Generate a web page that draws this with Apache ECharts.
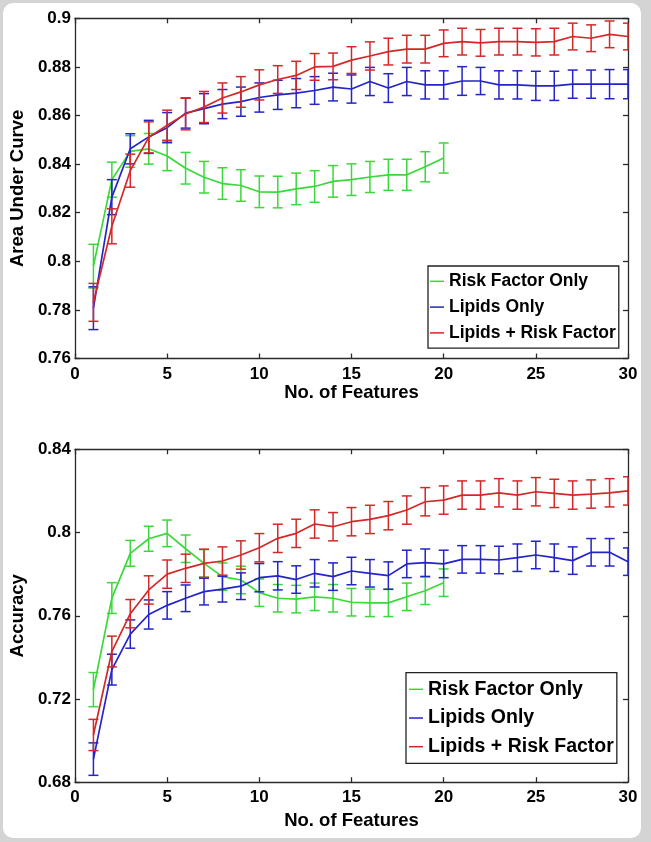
<!DOCTYPE html>
<html>
<head>
<meta charset="utf-8">
<script src="https://cdn.jsdelivr.net/npm/echarts@6/dist/echarts.min.js"></script>
<style>
html,body{margin:0;padding:0;width:651px;height:842px;background:#d4d4d4;overflow:hidden;}
#frame{position:absolute;left:3px;top:3px;width:638px;height:835px;background:#fff;border-radius:10px;}
#chart{position:absolute;left:0;top:0;width:651px;height:842px;}
</style>
</head>
<body>
<div id="frame"></div>
<div id="chart"></div>
<script>
// ---------- data ----------
const seriesNames = ['Risk Factor Only', 'Lipids Only', 'Lipids + Risk Factor'];
const xTickLabels = [0, 5, 10, 15, 20, 25, 30];

// Top panel: Area Under Curve
const aucRisk = [0.798, 0.8336, 0.8452, 0.8463, 0.8433, 0.8383, 0.8346, 0.8320, 0.8312, 0.8286,
                 0.8285, 0.8298, 0.8308, 0.8329, 0.8336, 0.8347, 0.8356, 0.8356, 0.8389, 0.8425];
const aucRiskErr = [0.009, 0.0072, 0.0065, 0.0063, 0.006, 0.0065, 0.0065, 0.0065, 0.0065, 0.0065,
                    0.0065, 0.0065, 0.0065, 0.0065, 0.0065, 0.0064, 0.0064, 0.0064, 0.0062, 0.0062];
const aucLipids = [0.7807, 0.8264, 0.8463, 0.8512, 0.8550, 0.8610, 0.8628, 0.8647, 0.8657, 0.8674,
                   0.8685, 0.8692, 0.8703, 0.8717, 0.8709, 0.8740, 0.8713, 0.8740, 0.8726, 0.8726,
                   0.8742, 0.8742, 0.8726, 0.8726, 0.8722, 0.8722, 0.8729, 0.8729, 0.8729, 0.8729];
const aucLipidsErr = [0.0088, 0.0072, 0.0062, 0.0068, 0.0062, 0.0062, 0.0062, 0.006, 0.006, 0.006,
                      0.006, 0.006, 0.0057, 0.0057, 0.0058, 0.0058, 0.0059, 0.0058, 0.0058, 0.0058,
                      0.0059, 0.0056, 0.0058, 0.0058, 0.006, 0.006, 0.0058, 0.0058, 0.006, 0.006];
const aucBoth = [0.7831, 0.8144, 0.8373, 0.8510, 0.8560, 0.8606, 0.8635, 0.8672, 0.8697, 0.8726,
                 0.8748, 0.8765, 0.8800, 0.8802, 0.8828, 0.8845, 0.8863, 0.8873, 0.8873, 0.8897,
                 0.8904, 0.8899, 0.8904, 0.8904, 0.8901, 0.8904, 0.8925, 0.8918, 0.8934, 0.8925];
const aucBothErr = [0.0078, 0.0072, 0.0068, 0.0064, 0.0062, 0.0065, 0.0064, 0.0062, 0.0063, 0.0062,
                    0.0057, 0.0058, 0.0055, 0.0055, 0.0055, 0.0058, 0.0055, 0.0057, 0.0057, 0.0055,
                    0.0055, 0.0055, 0.0055, 0.0055, 0.0056, 0.0055, 0.0055, 0.0055, 0.0055, 0.0055];

// Bottom panel: Accuracy
const accRisk = [0.7245, 0.7685, 0.7900, 0.7970, 0.7996, 0.7922, 0.7852, 0.7788, 0.7772, 0.7711,
                 0.7684, 0.7680, 0.7691, 0.7684, 0.7665, 0.7662, 0.7662, 0.7691, 0.7720, 0.7759];
const accRiskErr = [0.0082, 0.0074, 0.0062, 0.006, 0.0064, 0.0066, 0.0066, 0.0066, 0.0066, 0.0066,
                    0.0066, 0.0066, 0.0066, 0.0066, 0.0066, 0.0066, 0.0066, 0.0066, 0.0066, 0.0066];
const accLipids = [0.6911, 0.7341, 0.7512, 0.7606, 0.7650, 0.7684, 0.7716, 0.7728, 0.7742, 0.7783,
                   0.7792, 0.7774, 0.7804, 0.7788, 0.7815, 0.7804, 0.7793, 0.7849, 0.7855, 0.7849,
                   0.7871, 0.7871, 0.7868, 0.7879, 0.7892, 0.7879, 0.7865, 0.7905, 0.7905, 0.7860];
const accLipidsErr = [0.0078, 0.0074, 0.0068, 0.007, 0.0066, 0.0064, 0.0064, 0.0062, 0.0064, 0.0068,
                      0.0068, 0.0066, 0.0066, 0.0066, 0.0066, 0.0066, 0.0066, 0.0066, 0.0066, 0.0066,
                      0.0066, 0.0066, 0.0066, 0.0066, 0.0066, 0.0066, 0.0066, 0.0066, 0.0066, 0.0066];
const accBoth = [0.7027, 0.7428, 0.7610, 0.7724, 0.7800, 0.7828, 0.7852, 0.7863, 0.7892, 0.7927,
                 0.7972, 0.7996, 0.8041, 0.8028, 0.8052, 0.8063, 0.8081, 0.8108, 0.8148, 0.8156,
                 0.8180, 0.8180, 0.8191, 0.8180, 0.8196, 0.8188, 0.8180, 0.8185, 0.8191, 0.8200];
const accBothErr = [0.0075, 0.0074, 0.0068, 0.0068, 0.0068, 0.0068, 0.0068, 0.0068, 0.0068, 0.0068,
                    0.0068, 0.0068, 0.0068, 0.0068, 0.0068, 0.0068, 0.0068, 0.0068, 0.0068, 0.0068,
                    0.0068, 0.0068, 0.0068, 0.0068, 0.0068, 0.0068, 0.0068, 0.0068, 0.0068, 0.0068];

// ---------- styling ----------
const FONT = '"Liberation Sans", Arial, Helvetica, sans-serif';
const colors = ['#3ad83a', '#2424c8', '#d42828'];
const axisColor = '#2a2a2a';

function linePts(vals) { return vals.map((v, i) => [i + 1, v]); }
function errPts(vals, errs) { return vals.map((v, i) => [i + 1, v - errs[i], v + errs[i]]); }

function errRender(color) {
  return function (params, api) {
    const x = api.value(0), lo = api.value(1), hi = api.value(2);
    const a = api.coord([x, hi]), b = api.coord([x, lo]);
    const cs = params.coordSys;
    const hw = 5;
    const x1 = Math.max(a[0] - hw, cs.x), x2 = Math.min(a[0] + hw, cs.x + cs.width);
    const st = { stroke: color, lineWidth: 1.5 };
    return {
      type: 'group',
      children: [
        { type: 'line', shape: { x1: a[0], y1: a[1], x2: b[0], y2: b[1] }, style: st },
        { type: 'line', shape: { x1: x1, y1: a[1], x2: x2, y2: a[1] }, style: st },
        { type: 'line', shape: { x1: x1, y1: b[1], x2: x2, y2: b[1] }, style: st }
      ]
    };
  };
}

function mkSeries(grid, sets) {
  const out = [];
  sets.forEach((s, k) => {
    out.push({
      type: 'custom', name: 'err' + grid + '_' + k,
      xAxisIndex: grid * 2, yAxisIndex: grid * 2,
      renderItem: errRender(colors[k]),
      encode: { x: 0, y: [1, 2] },
      data: errPts(s[0], s[1]), z: 2 + k, silent: true
    });
    out.push({
      type: 'line', name: seriesNames[k],
      xAxisIndex: grid * 2, yAxisIndex: grid * 2,
      data: linePts(s[0]), showSymbol: false, symbol: 'none',
      lineStyle: { color: colors[k], width: 1.7 },
      itemStyle: { color: colors[k] }, z: 2 + k
    });
  });
  return out;
}

const labelStyle = { color: '#000', fontFamily: FONT, fontWeight: 'bold', fontSize: 17 };
const nameStyle = { color: '#000', fontFamily: FONT, fontWeight: 'bold', fontSize: 18.5 };

function xAxes(grid, gap) {
  return [
    { type: 'value', gridIndex: grid, min: 0, max: 30, interval: 5, position: 'bottom',
      name: 'No. of Features', nameLocation: 'middle', nameGap: gap, nameTextStyle: nameStyle,
      axisLine: { onZero: false, lineStyle: { color: axisColor, width: 1.3 } },
      axisTick: { inside: true, length: 5, lineStyle: { color: axisColor, width: 1.3 } },
      axisLabel: Object.assign({ margin: 7, formatter: v => xTickLabels.includes(v) ? String(v) : '' }, labelStyle),
      splitLine: { show: false } },
    { type: 'value', gridIndex: grid, min: 0, max: 30, interval: 5, position: 'top',
      axisLine: { onZero: false, lineStyle: { color: axisColor, width: 1.3 } },
      axisTick: { inside: true, length: 5, lineStyle: { color: axisColor, width: 1.3 } },
      axisLabel: { show: false }, splitLine: { show: false } }
  ];
}
function yAxes(grid, min, max, interval, name, gap) {
  return [
    { type: 'value', gridIndex: grid, min: min, max: max, interval: interval, position: 'left',
      name: name, nameLocation: 'middle', nameGap: gap, nameTextStyle: nameStyle,
      axisLine: { show: true, onZero: false, lineStyle: { color: axisColor, width: 1.3 } },
      axisTick: { show: true, inside: true, length: 5, lineStyle: { color: axisColor, width: 1.3 } },
      axisLabel: Object.assign({ margin: 4 }, labelStyle), splitLine: { show: false } },
    { type: 'value', gridIndex: grid, min: min, max: max, interval: interval, position: 'right',
      axisLine: { show: true, onZero: false, lineStyle: { color: axisColor, width: 1.3 } },
      axisTick: { show: true, inside: true, length: 5, lineStyle: { color: axisColor, width: 1.3 } },
      axisLabel: { show: false }, splitLine: { show: false } }
  ];
}

function legend(left, top, fs, lh, gap, pad) {
  return {
    orient: 'vertical', left: left, top: top, data: seriesNames,
    icon: 'rect', itemWidth: 14, itemHeight: 1.5, itemGap: gap,
    padding: pad, backgroundColor: '#fff', borderColor: '#222', borderWidth: 1.3,
    textStyle: { color: '#000', fontFamily: FONT, fontWeight: 'bold', fontSize: fs, lineHeight: lh },
    selectedMode: false
  };
}

const chart = echarts.init(document.getElementById('chart'), null, { renderer: 'canvas' });
chart.setOption({
  animation: false,
  backgroundColor: 'transparent',
  grid: [
    { left: 70, right: 23, top: 18.3, height: 340.2 },
    { left: 74, right: 23, top: 449.3, height: 332.9 }
  ],
  xAxis: [...xAxes(0, 25), ...xAxes(1, 29)],
  yAxis: [...yAxes(0, 0.76, 0.9, 0.02, 'Area Under Curve', 35), ...yAxes(1, 0.68, 0.84, 0.04, 'Accuracy', 39)],
  legend: [
    legend(428, 266, 17.5, 20, 5.8, [5.3, 3, 5.3, 2]),
    legend(406, 672.7, 19.5, 22, 6.7, [5.6, 3, 5.6, 3])
  ],
  series: [
    ...mkSeries(0, [[aucRisk, aucRiskErr], [aucLipids, aucLipidsErr], [aucBoth, aucBothErr]]),
    ...mkSeries(1, [[accRisk, accRiskErr], [accLipids, accLipidsErr], [accBoth, accBothErr]])
  ]
});
</script>
</body>
</html>
